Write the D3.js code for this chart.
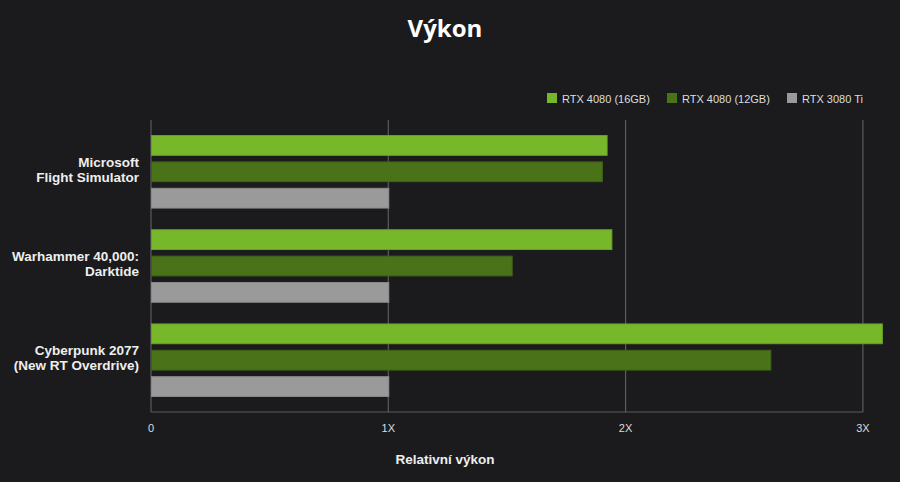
<!DOCTYPE html>
<html>
<head>
<meta charset="utf-8">
<script src="https://cdn.jsdelivr.net/npm/d3@7"></script>
<style>
  body { margin: 0; background: #1b1b1d; }
  svg { display: block; font-family: "Liberation Sans", Arial, sans-serif; }
</style>
</head>
<body>
<div id="chart"></div>
<script>
// data
const games = [
  ["Microsoft", "Flight Simulator"],
  ["Warhammer 40,000:", "Darktide"],
  ["Cyberpunk 2077", "(New RT Overdrive)"]
];
const seriesNames = ["RTX 4080 (16GB)", "RTX 4080 (12GB)", "RTX 3080 Ti"];
const rtx4080_16 = [1.92, 1.94, 3.08];
const rtx4080_12 = [1.90, 1.52, 2.61];
const rtx3080ti  = [1.0, 1.0, 1.0];
const xTicks = [0, 1, 2, 3];
const xTickLabels = ["0", "1X", "2X", "3X"];

const colors = ["#76b82a", "#4a7219", "#9a9a9a"];
const strokes = ["#68a224", "#3f6315", "#8a8a8a"];

const width = 900, height = 482;
const margin = {top: 120, right: 37, bottom: 70, left: 151};

const svg = d3.select("#chart").append("svg")
  .attr("width", width)
  .attr("height", height);

svg.append("rect").attr("width", width).attr("height", height).attr("fill", "#1b1b1d");

const x = d3.scaleLinear()
  .domain([0, 3])
  .range([margin.left, margin.left + 237.3 * 3]);

const y0 = d3.scaleBand()
  .domain(games.map((d, i) => i))
  .range([margin.top, height - margin.bottom])
  .paddingInner(0.23)
  .paddingOuter(0.165);

const y1 = d3.scaleBand()
  .domain(d3.range(seriesNames.length))
  .range([0, y0.bandwidth()])
  .paddingInner(0.25);

const series = [rtx4080_16, rtx4080_12, rtx3080ti];

// title
svg.append("text")
  .attr("x", 445).attr("y", 37)
  .attr("text-anchor", "middle")
  .attr("fill", "#ffffff")
  .style("font-family", "'Open Sans', sans-serif")
  .style("font-weight", "bold")
  .style("font-size", "24px")
  .text("Výkon");

// grid lines
const plotBottom = height - margin.bottom;
svg.append("g").selectAll("line")
  .data(xTicks)
  .join("line")
  .attr("x1", d => x(d)).attr("x2", d => x(d))
  .attr("y1", margin.top).attr("y2", plotBottom)
  .attr("stroke", "#5c5c5e")
  .attr("stroke-width", 1.2);

svg.append("line")
  .attr("x1", x(0)).attr("x2", x(3))
  .attr("y1", plotBottom).attr("y2", plotBottom)
  .attr("stroke", "#5c5c5e")
  .attr("stroke-width", 1.2);

// bars
const groups = svg.append("g").selectAll("g")
  .data(games)
  .join("g")
  .attr("transform", (d, i) => `translate(0,${y0(i)})`);

groups.selectAll("rect")
  .data((d, gi) => series.map((s, si) => ({si, v: s[gi]})))
  .join("rect")
  .attr("x", x(0) + 0.5)
  .attr("y", d => y1(d.si))
  .attr("width", d => x(d.v) - x(0))
  .attr("height", y1.bandwidth())
  .attr("fill", d => colors[d.si])
  .attr("stroke", d => strokes[d.si])
  .attr("stroke-width", 1);

// category labels
const labels = svg.append("g").selectAll("text")
  .data(games)
  .join("text")
  .attr("text-anchor", "end")
  .attr("fill", "#eeeeee")
  .style("font-weight", "bold")
  .style("font-size", "13.5px")
  .attr("transform", (d, i) => `translate(139,${y0(i) + y0.bandwidth() / 2 - 2})`);

labels.selectAll("tspan")
  .data(d => d)
  .join("tspan")
  .attr("x", 0)
  .attr("y", (d, i) => i === 0 ? -3 : 12)
  .text(d => d);

// x tick labels
svg.append("g").selectAll("text")
  .data(xTicks)
  .join("text")
  .attr("x", d => x(d))
  .attr("y", 432)
  .attr("text-anchor", "middle")
  .attr("fill", "#dddddd")
  .style("font-size", "11px")
  .text((d, i) => xTickLabels[i]);

// axis title
svg.append("text")
  .attr("x", 445).attr("y", 464)
  .attr("text-anchor", "middle")
  .attr("fill", "#eeeeee")
  .style("font-weight", "bold")
  .style("font-size", "13.5px")
  .text("Relativní výkon");

// legend
const legendX = [547, 667, 787];
const legend = svg.append("g").selectAll("g")
  .data(seriesNames)
  .join("g")
  .attr("transform", (d, i) => `translate(${legendX[i]},93)`);

legend.append("rect")
  .attr("width", 10).attr("height", 10)
  .attr("fill", (d, i) => colors[i]);

legend.append("text")
  .attr("x", 15).attr("y", 9.5)
  .attr("fill", "#dddddd")
  .style("font-size", "11px")
  .text(d => d);
</script>
</body>
</html>
